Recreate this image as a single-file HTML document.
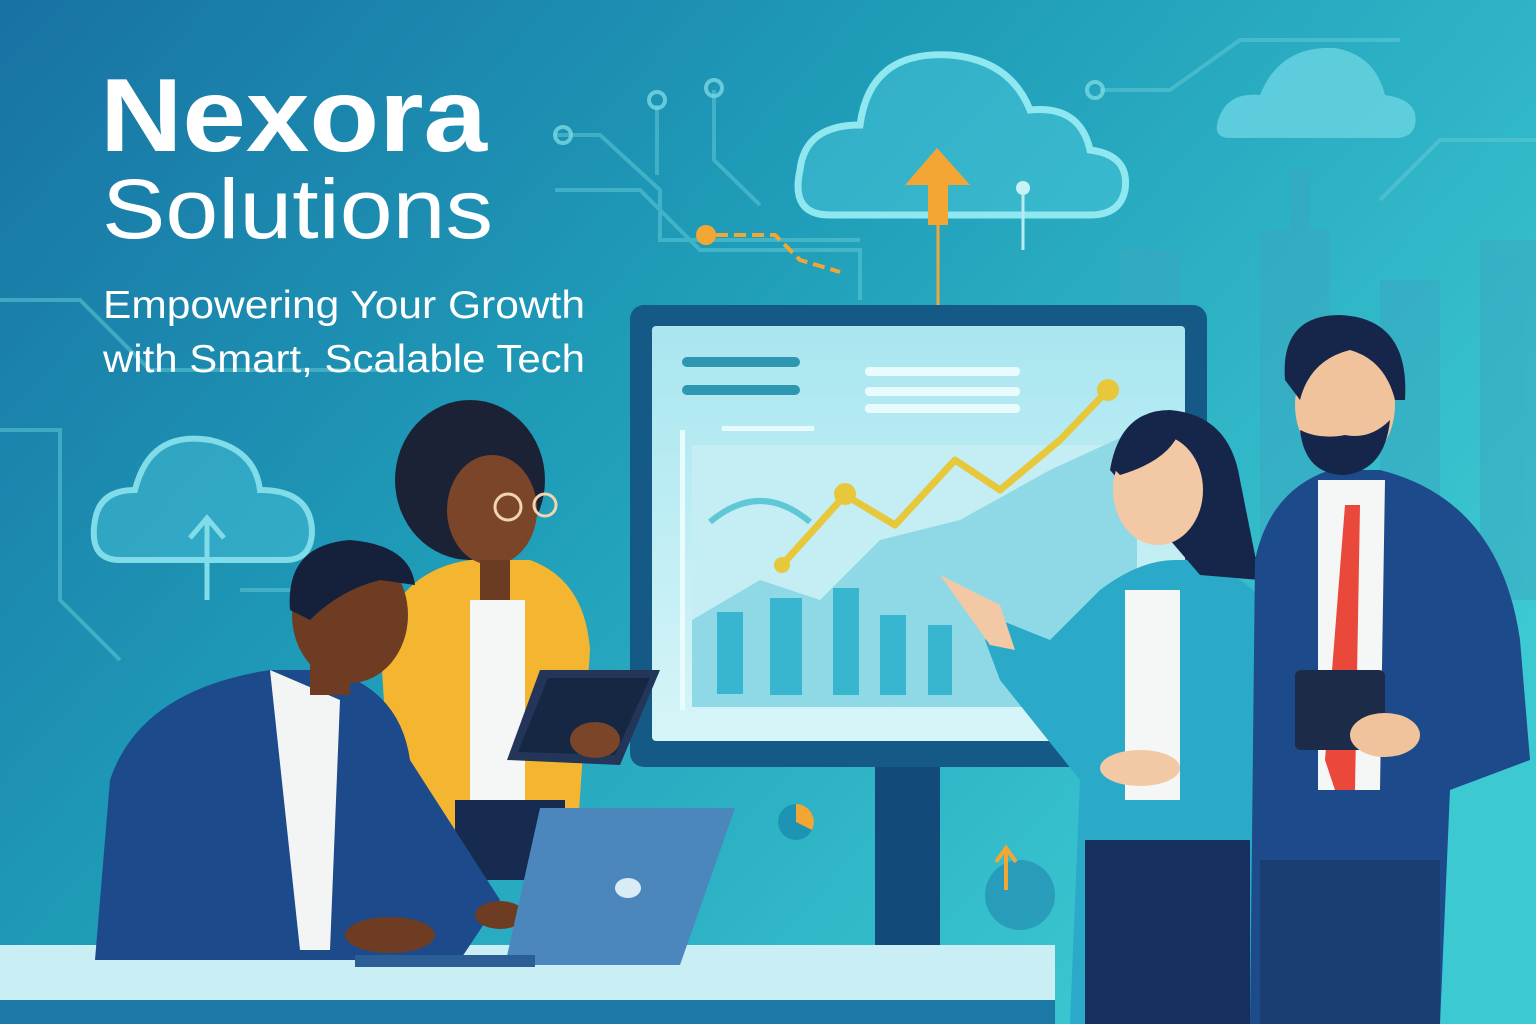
<!DOCTYPE html>
<html><head><meta charset="utf-8"><style>
html,body{margin:0;padding:0;width:1536px;height:1024px;overflow:hidden}
svg{display:block}
</style></head><body>
<svg width="1536" height="1024" viewBox="0 0 1536 1024" xmlns="http://www.w3.org/2000/svg">
<defs>
<linearGradient id="bg" x1="0" y1="0" x2="1" y2="0.6">
<stop offset="0" stop-color="#1872a3"/><stop offset="0.45" stop-color="#1f9cb8"/><stop offset="1" stop-color="#3cc9d2"/>
</linearGradient>
<linearGradient id="scr" x1="0" y1="0" x2="0" y2="1">
<stop offset="0" stop-color="#a9e6f0"/><stop offset="1" stop-color="#d6f5f8"/>
</linearGradient>
</defs>
<rect width="1536" height="1024" fill="url(#bg)"/>
<g fill="#3aa7c0" opacity="0.5">
<rect x="1260" y="230" width="70" height="330"/><rect x="1290" y="170" width="20" height="60"/>
<rect x="1380" y="280" width="60" height="300"/><rect x="1480" y="240" width="56" height="360"/>
<rect x="1120" y="250" width="60" height="200"/>
</g>
<g stroke="#5ec8d6" stroke-width="4" fill="none" opacity="0.55">
<path d="M555 135 L600 135 L660 190 L660 240 L860 240"/>
<path d="M555 190 L640 190 L700 250 L860 250 L860 300"/>
<path d="M657 105 L657 175"/><path d="M714 90 L714 160 L760 205"/>
<path d="M1100 90 L1170 90 L1240 40 L1400 40"/>
<path d="M0 300 L80 300 L150 370 L400 370"/>
<path d="M0 430 L60 430 L60 600 L120 660"/>
<path d="M240 590 L320 590 L380 650"/>
<path d="M1380 200 L1440 140 L1536 140"/>
</g>
<g fill="none" stroke="#7ad8e2" stroke-width="4" opacity="0.8">
<circle cx="657" cy="100" r="8"/><circle cx="714" cy="88" r="8"/><circle cx="563" cy="135" r="8"/><circle cx="1095" cy="90" r="8"/>
</g>
<path d="M830 215 Q790 215 800 170 Q805 125 860 125 Q870 50 950 55 Q1010 60 1030 110 Q1080 105 1090 150 Q1130 155 1125 190 Q1120 215 1090 215 Z" fill="#52cfe0" fill-opacity="0.4" stroke="#8fe7ef" stroke-width="7"/>
<path d="M120 560 Q88 560 95 520 Q100 490 135 490 Q150 430 210 440 Q255 450 260 490 Q310 490 312 530 Q312 560 285 560 Z" fill="#4cc6db" fill-opacity="0.45" stroke="#7fdce8" stroke-width="6"/>
<path d="M1230 138 Q1210 138 1220 115 Q1230 92 1260 95 Q1280 45 1335 48 Q1375 55 1385 95 Q1420 100 1415 125 Q1412 138 1395 138 Z" fill="#6ad5e2" opacity="0.8"/>
<path d="M207 600 L207 520 M190 538 L207 518 L224 538" stroke="#7fdce8" stroke-width="5" fill="none"/>
<path d="M938 305 L938 190" stroke="#f0a63a" stroke-width="3"/>
<polygon points="905,185 937,148 970,185 948,185 948,225 928,225 928,185" fill="#f4a634"/>
<circle cx="1023" cy="188" r="7" fill="#c8f2f6"/><path d="M1023 195 L1023 250" stroke="#b9ecf2" stroke-width="3"/>
<circle cx="706" cy="235" r="10" fill="#f4a634"/><path d="M716 235 L775 235 L800 260 L840 272" stroke="#f4a634" stroke-width="4" stroke-dasharray="12 6" fill="none"/>
<g font-family="Liberation Sans, sans-serif" fill="#ffffff">
<text x="100" y="151" font-size="104" font-weight="bold" textLength="387" lengthAdjust="spacingAndGlyphs">Nexora</text>
<text x="102" y="238" font-size="84" textLength="391" lengthAdjust="spacingAndGlyphs">Solutions</text>
<text x="103" y="318" font-size="39" textLength="482" lengthAdjust="spacingAndGlyphs">Empowering Your Growth</text>
<text x="103" y="372" font-size="39" textLength="482" lengthAdjust="spacingAndGlyphs">with Smart, Scalable Tech</text>
</g>
<rect x="875" y="760" width="65" height="190" fill="#124b7a"/>
<rect x="630" y="305" width="577" height="462" rx="14" fill="#155a86"/>
<rect x="652" y="326" width="533" height="415" rx="4" fill="url(#scr)"/>
<rect x="682" y="357" width="118" height="10" rx="5" fill="#2d96b0"/><rect x="682" y="385" width="118" height="10" rx="5" fill="#2d96b0"/>
<rect x="865" y="367" width="155" height="9" rx="4" fill="#e8fbfd"/><rect x="865" y="387" width="155" height="9" rx="4" fill="#e8fbfd"/><rect x="865" y="404" width="155" height="9" rx="4" fill="#e8fbfd"/>
<rect x="722" y="426" width="92" height="5" fill="#e8fbfd"/>
<rect x="692" y="445" width="445" height="262" fill="#c4eef4"/>
<path d="M692 620 L760 580 L820 600 L880 540 L960 520 L1050 470 L1137 430 L1137 707 L692 707 Z" fill="#8fd9e6"/>
<path d="M710 522 Q760 480 810 522" stroke="#5ec8d6" stroke-width="6" fill="none"/>
<g fill="#39b6cf"><rect x="717" y="612" width="26" height="82"/><rect x="770" y="598" width="32" height="97"/><rect x="833" y="588" width="26" height="107"/><rect x="880" y="615" width="26" height="80"/><rect x="928" y="625" width="24" height="70"/></g>
<path d="M782 565 L845 495 L895 525 L955 460 L1000 490 L1060 440 L1108 390" stroke="#e6c83a" stroke-width="7" fill="none" stroke-linejoin="round"/>
<circle cx="782" cy="565" r="8" fill="#e6c83a"/><circle cx="845" cy="494" r="11" fill="#e6c83a"/><circle cx="1108" cy="390" r="11" fill="#e6c83a"/>
<rect x="680" y="430" width="5" height="280" fill="#e8fbfd"/>
<circle cx="796" cy="822" r="18" fill="#1e94b4"/><path d="M796 822 L796 804 A18 18 0 0 1 812 830Z" fill="#f4a634"/>
<circle cx="1020" cy="895" r="35" fill="#2595b6" opacity="0.8"/>
<path d="M1006 890 L1006 850 M996 862 L1006 848 L1016 862" stroke="#f4a634" stroke-width="4" fill="none"/>
<rect x="0" y="945" width="1055" height="79" fill="#c9eef4"/>
<rect x="0" y="1000" width="1055" height="24" fill="#1d7aa6"/>
<path d="M395 870 L380 640 Q400 570 470 560 L530 560 Q585 580 590 650 L575 870 Z" fill="#f4b530"/>
<rect x="470" y="600" width="55" height="200" fill="#f4f7f5"/>
<rect x="455" y="800" width="110" height="80" fill="#162b4f"/>
<ellipse cx="470" cy="480" rx="75" ry="80" fill="#1b2236"/>
<ellipse cx="492" cy="510" rx="45" ry="55" fill="#7a4528"/>
<circle cx="508" cy="507" r="13" fill="none" stroke="#f1d4b0" stroke-width="3"/><circle cx="545" cy="505" r="11" fill="none" stroke="#f1d4b0" stroke-width="3"/>
<rect x="480" y="560" width="30" height="40" fill="#6b3b22"/>
<polygon points="540,670 660,670 620,765 507,760" fill="#24355a"/>
<polygon points="548,678 650,678 615,755 518,752" fill="#162744"/>
<ellipse cx="595" cy="740" rx="25" ry="18" fill="#7a4528"/>
<path d="M95 960 L110 780 Q140 690 270 670 L330 670 Q400 690 410 760 L500 900 L460 960 Z" fill="#1c4a8a"/>
<path d="M270 670 L300 950 L330 950 L340 700 Z" fill="#f2f5f4"/>
<ellipse cx="350" cy="615" rx="58" ry="68" fill="#6e3c22"/>
<path d="M290 610 Q285 545 350 540 Q410 545 415 585 L380 580 Q340 590 310 620 Z" fill="#15203a"/>
<rect x="310" y="660" width="40" height="35" fill="#6e3c22"/>
<ellipse cx="390" cy="935" rx="45" ry="18" fill="#6e3c22"/><ellipse cx="500" cy="915" rx="25" ry="14" fill="#6e3c22"/>
<polygon points="540,808 735,808 680,965 505,965" fill="#4b86bd"/>
<ellipse cx="628" cy="888" rx="13" ry="10" fill="#d9ecf5"/>
<rect x="355" y="955" width="180" height="12" fill="#2a5e95"/>
<path d="M1070 1024 L1080 780 L1000 680 L985 640 L1000 620 L1050 640 L1100 590 Q1140 560 1175 560 L1200 560 Q1290 590 1300 700 L1310 820 L1270 860 L1270 1024 Z" fill="#2ba9c8"/>
<rect x="1125" y="590" width="55" height="210" fill="#f4f7f5"/>
<rect x="1085" y="840" width="165" height="184" fill="#15305c"/>
<path d="M1110 470 Q1120 410 1170 410 Q1230 415 1240 480 L1260 580 L1200 575 Z" fill="#16264a"/>
<ellipse cx="1158" cy="490" rx="45" ry="55" fill="#f3c8a5"/>
<path d="M1115 470 Q1130 420 1180 430 Q1170 460 1120 475Z" fill="#16264a"/>
<path d="M940 575 L1000 605 L1015 650 L990 645 Z" fill="#f3c8a5"/>
<ellipse cx="1140" cy="768" rx="40" ry="18" fill="#f3c8a5"/>
<path d="M1250 1024 L1255 560 Q1270 490 1330 470 L1380 470 Q1500 500 1520 640 L1530 760 L1450 790 L1440 1024 Z" fill="#1d4a8a"/>
<path d="M1318 480 L1318 790 L1380 790 L1385 480 Z" fill="#f4f7f5"/>
<polygon points="1345,505 1360,505 1355,790 1335,790 1325,760" fill="#e9483b"/>
<rect x="1260" y="860" width="180" height="164" fill="#1a3d72"/>
<ellipse cx="1345" cy="405" rx="50" ry="62" fill="#f0c39c"/>
<path d="M1285 380 Q1280 315 1340 315 Q1410 318 1405 400 L1395 400 Q1385 360 1350 350 Q1310 360 1300 400 Z" fill="#16264a"/>
<path d="M1300 430 Q1305 475 1345 475 Q1385 470 1390 420 Q1370 440 1345 435 Q1320 440 1300 430Z" fill="#16264a"/>
<rect x="1295" y="670" width="90" height="80" rx="6" fill="#1b2b48"/>
<ellipse cx="1385" cy="735" rx="35" ry="22" fill="#f0c39c"/>
</svg>
</body></html>
